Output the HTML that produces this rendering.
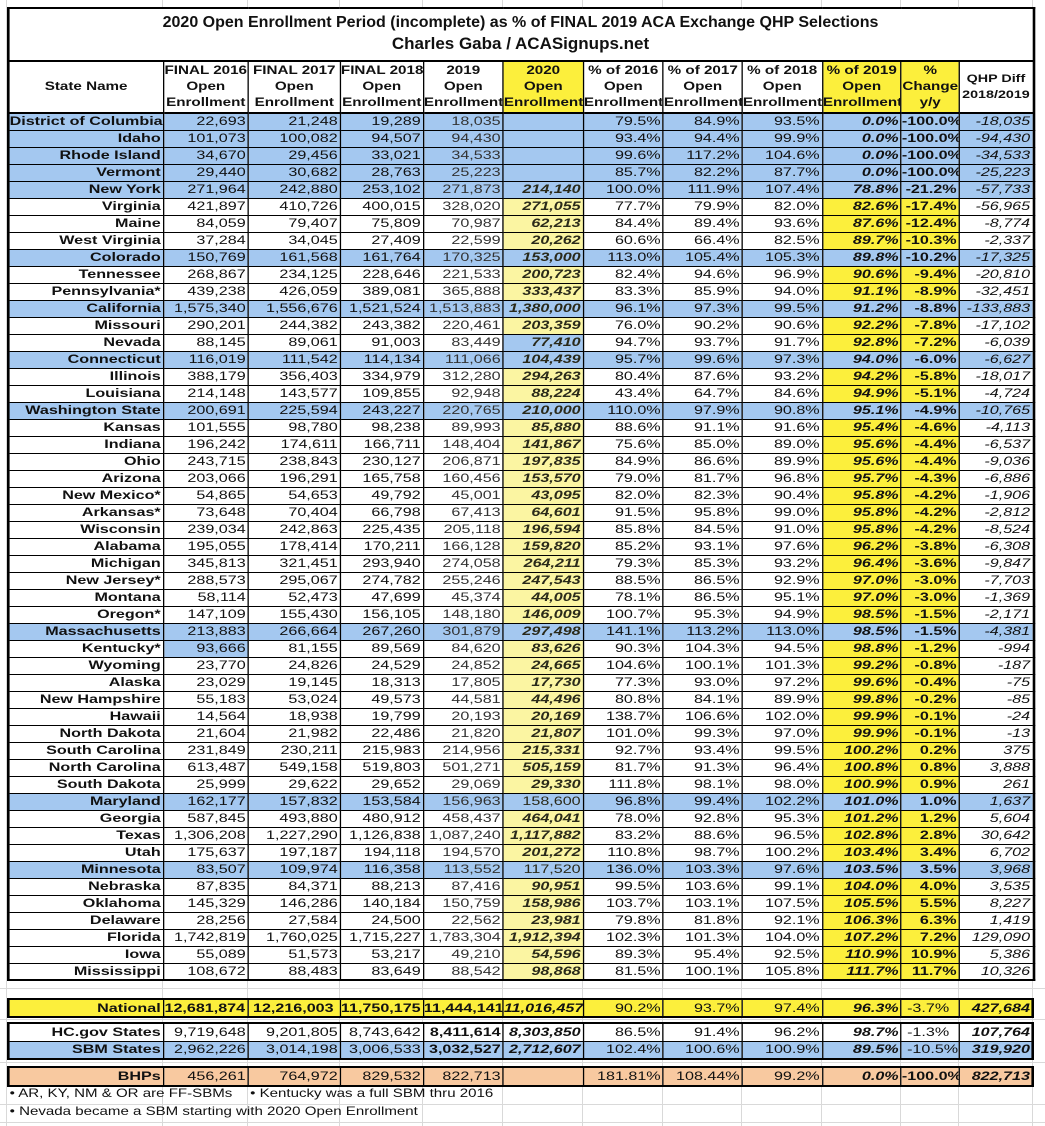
<!DOCTYPE html>
<html><head><meta charset="utf-8">
<style>
html,body{margin:0;padding:0;background:#fff;}
body{width:1045px;height:1126px;position:relative;overflow:hidden;font-family:"Liberation Sans",Arial,sans-serif;}
.vl{position:absolute;top:0;height:1126px;width:1px;background:#d9d9d9;}
.hl{position:absolute;left:0;width:1045px;height:1px;background:#d9d9d9;}
#wrap{position:absolute;left:7px;top:7px;width:788.5px;height:1119px;transform:scaleX(1.3);transform-origin:0 0;}
table{position:absolute;left:0;border-collapse:collapse;table-layout:fixed;width:788.5px;border:2px solid #000;background:#fff;}
td{border:1px solid #000;padding:0 1.5px 0 0;text-align:right;white-space:nowrap;overflow:hidden;font-size:12.4px;line-height:15px;color:#111;}
tr.r{height:17px;}
td.n{font-weight:bold;}
td.g{color:#333;}
td.c{font-weight:bold;font-style:italic;color:#2a2a1a;background:#fbf5a2;}
td.p9{font-weight:bold;font-style:italic;background:#fcef3c;}
td.pc{font-weight:bold;background:#fcef3c;}
td.q{font-style:italic;}
td.w{font-weight:normal;font-style:normal;}
td.k{background:#a4c8f0 !important;}
tr.b td{background:#a4c8f0 !important;}
.title td{height:51px;border-bottom:2px solid #000;padding:0;}
.hdr td{height:50px;text-align:center;font-weight:bold;font-size:11.7px;line-height:16px;border-bottom:2px solid #000;padding:0;white-space:nowrap;}
.hdr td.y{background:#fcef3c;}
.nat td{background:#fcef3c;}
.or td{background:#f8c9a0;}
.bo{font-weight:bold;}
.bi{font-weight:bold;font-style:italic;}
.foot{position:absolute;left:2px;font-size:11.6px;color:#111;white-space:nowrap;}
.tt{position:absolute;left:9px;width:1023px;text-align:center;font-weight:bold;color:#111;white-space:nowrap;}
</style></head><body>
<div class="vl" style="left:162px"></div><div class="vl" style="left:247px"></div><div class="vl" style="left:339px"></div><div class="vl" style="left:422px"></div><div class="vl" style="left:502px"></div><div class="vl" style="left:582px"></div><div class="vl" style="left:662px"></div><div class="vl" style="left:741px"></div><div class="vl" style="left:821px"></div><div class="vl" style="left:900px"></div><div class="vl" style="left:958px"></div><div class="vl" style="left:1032px"></div><div class="vl" style="left:6px"></div>
<div class="hl" style="top:988px"></div><div class="hl" style="top:1019px"></div><div class="hl" style="top:1062px"></div><div class="hl" style="top:1104px"></div><div class="hl" style="top:1122px"></div>
<div id="wrap">
<table style="top:0">
<colgroup><col style="width:119.23px"><col style="width:65.38px"><col style="width:70.77px"><col style="width:63.85px"><col style="width:61.54px"><col style="width:61.54px"><col style="width:61.54px"><col style="width:60.77px"><col style="width:61.54px"><col style="width:60.77px"><col style="width:44.62px"><col style="width:56.92px"></colgroup>
<tr class="title"><td colspan="12"></td></tr>
<tr class="hdr"><td>State Name</td><td>FINAL 2016<br>Open<br>Enrollment</td><td>FINAL 2017<br>Open<br>Enrollment</td><td>FINAL 2018<br>Open<br>Enrollment</td><td>2019<br>Open<br>Enrollment</td><td class="y">2020<br>Open<br>Enrollment</td><td>% of 2016<br>Open<br>Enrollment</td><td>% of 2017<br>Open<br>Enrollment</td><td>% of 2018<br>Open<br>Enrollment</td><td class="y">% of 2019<br>Open<br>Enrollment</td><td class="y">%<br>Change<br>y/y</td><td style="font-size:11px">QHP Diff<br>2018/2019</td></tr>
<tr class="r b"><td class="n">District of Columbia</td><td>22,693</td><td>21,248</td><td>19,289</td><td class="g">18,035</td><td class="c"></td><td>79.5%</td><td>84.9%</td><td>93.5%</td><td class="p9">0.0%</td><td class="pc">-100.0%</td><td class="q">-18,035</td></tr>
<tr class="r b"><td class="n">Idaho</td><td>101,073</td><td>100,082</td><td>94,507</td><td class="g">94,430</td><td class="c"></td><td>93.4%</td><td>94.4%</td><td>99.9%</td><td class="p9">0.0%</td><td class="pc">-100.0%</td><td class="q">-94,430</td></tr>
<tr class="r b"><td class="n">Rhode Island</td><td>34,670</td><td>29,456</td><td>33,021</td><td class="g">34,533</td><td class="c"></td><td>99.6%</td><td>117.2%</td><td>104.6%</td><td class="p9">0.0%</td><td class="pc">-100.0%</td><td class="q">-34,533</td></tr>
<tr class="r b"><td class="n">Vermont</td><td>29,440</td><td>30,682</td><td>28,763</td><td class="g">25,223</td><td class="c"></td><td>85.7%</td><td>82.2%</td><td>87.7%</td><td class="p9">0.0%</td><td class="pc">-100.0%</td><td class="q">-25,223</td></tr>
<tr class="r b"><td class="n">New York</td><td>271,964</td><td>242,880</td><td>253,102</td><td class="g">271,873</td><td class="c">214,140</td><td>100.0%</td><td>111.9%</td><td>107.4%</td><td class="p9">78.8%</td><td class="pc">-21.2%</td><td class="q">-57,733</td></tr>
<tr class="r"><td class="n">Virginia</td><td>421,897</td><td>410,726</td><td>400,015</td><td class="g">328,020</td><td class="c">271,055</td><td>77.7%</td><td>79.9%</td><td>82.0%</td><td class="p9">82.6%</td><td class="pc">-17.4%</td><td class="q">-56,965</td></tr>
<tr class="r"><td class="n">Maine</td><td>84,059</td><td>79,407</td><td>75,809</td><td class="g">70,987</td><td class="c">62,213</td><td>84.4%</td><td>89.4%</td><td>93.6%</td><td class="p9">87.6%</td><td class="pc">-12.4%</td><td class="q">-8,774</td></tr>
<tr class="r"><td class="n">West Virginia</td><td>37,284</td><td>34,045</td><td>27,409</td><td class="g">22,599</td><td class="c">20,262</td><td>60.6%</td><td>66.4%</td><td>82.5%</td><td class="p9">89.7%</td><td class="pc">-10.3%</td><td class="q">-2,337</td></tr>
<tr class="r b"><td class="n">Colorado</td><td>150,769</td><td>161,568</td><td>161,764</td><td class="g">170,325</td><td class="c">153,000</td><td>113.0%</td><td>105.4%</td><td>105.3%</td><td class="p9">89.8%</td><td class="pc">-10.2%</td><td class="q">-17,325</td></tr>
<tr class="r"><td class="n">Tennessee</td><td>268,867</td><td>234,125</td><td>228,646</td><td class="g">221,533</td><td class="c">200,723</td><td>82.4%</td><td>94.6%</td><td>96.9%</td><td class="p9">90.6%</td><td class="pc">-9.4%</td><td class="q">-20,810</td></tr>
<tr class="r"><td class="n">Pennsylvania*</td><td>439,238</td><td>426,059</td><td>389,081</td><td class="g">365,888</td><td class="c">333,437</td><td>83.3%</td><td>85.9%</td><td>94.0%</td><td class="p9">91.1%</td><td class="pc">-8.9%</td><td class="q">-32,451</td></tr>
<tr class="r b"><td class="n">California</td><td>1,575,340</td><td>1,556,676</td><td>1,521,524</td><td class="g">1,513,883</td><td class="c">1,380,000</td><td>96.1%</td><td>97.3%</td><td>99.5%</td><td class="p9">91.2%</td><td class="pc">-8.8%</td><td class="q">-133,883</td></tr>
<tr class="r"><td class="n">Missouri</td><td>290,201</td><td>244,382</td><td>243,382</td><td class="g">220,461</td><td class="c">203,359</td><td>76.0%</td><td>90.2%</td><td>90.6%</td><td class="p9">92.2%</td><td class="pc">-7.8%</td><td class="q">-17,102</td></tr>
<tr class="r"><td class="n">Nevada</td><td>88,145</td><td>89,061</td><td>91,003</td><td class="g">83,449</td><td class="c k">77,410</td><td>94.7%</td><td>93.7%</td><td>91.7%</td><td class="p9">92.8%</td><td class="pc">-7.2%</td><td class="q">-6,039</td></tr>
<tr class="r b"><td class="n">Connecticut</td><td>116,019</td><td>111,542</td><td>114,134</td><td class="g">111,066</td><td class="c">104,439</td><td>95.7%</td><td>99.6%</td><td>97.3%</td><td class="p9">94.0%</td><td class="pc">-6.0%</td><td class="q">-6,627</td></tr>
<tr class="r"><td class="n">Illinois</td><td>388,179</td><td>356,403</td><td>334,979</td><td class="g">312,280</td><td class="c">294,263</td><td>80.4%</td><td>87.6%</td><td>93.2%</td><td class="p9">94.2%</td><td class="pc">-5.8%</td><td class="q">-18,017</td></tr>
<tr class="r"><td class="n">Louisiana</td><td>214,148</td><td>143,577</td><td>109,855</td><td class="g">92,948</td><td class="c">88,224</td><td>43.4%</td><td>64.7%</td><td>84.6%</td><td class="p9">94.9%</td><td class="pc">-5.1%</td><td class="q">-4,724</td></tr>
<tr class="r b"><td class="n">Washington State</td><td>200,691</td><td>225,594</td><td>243,227</td><td class="g">220,765</td><td class="c">210,000</td><td>110.0%</td><td>97.9%</td><td>90.8%</td><td class="p9">95.1%</td><td class="pc">-4.9%</td><td class="q">-10,765</td></tr>
<tr class="r"><td class="n">Kansas</td><td>101,555</td><td>98,780</td><td>98,238</td><td class="g">89,993</td><td class="c">85,880</td><td>88.6%</td><td>91.1%</td><td>91.6%</td><td class="p9">95.4%</td><td class="pc">-4.6%</td><td class="q">-4,113</td></tr>
<tr class="r"><td class="n">Indiana</td><td>196,242</td><td>174,611</td><td>166,711</td><td class="g">148,404</td><td class="c">141,867</td><td>75.6%</td><td>85.0%</td><td>89.0%</td><td class="p9">95.6%</td><td class="pc">-4.4%</td><td class="q">-6,537</td></tr>
<tr class="r"><td class="n">Ohio</td><td>243,715</td><td>238,843</td><td>230,127</td><td class="g">206,871</td><td class="c">197,835</td><td>84.9%</td><td>86.6%</td><td>89.9%</td><td class="p9">95.6%</td><td class="pc">-4.4%</td><td class="q">-9,036</td></tr>
<tr class="r"><td class="n">Arizona</td><td>203,066</td><td>196,291</td><td>165,758</td><td class="g">160,456</td><td class="c">153,570</td><td>79.0%</td><td>81.7%</td><td>96.8%</td><td class="p9">95.7%</td><td class="pc">-4.3%</td><td class="q">-6,886</td></tr>
<tr class="r"><td class="n">New Mexico*</td><td>54,865</td><td>54,653</td><td>49,792</td><td class="g">45,001</td><td class="c">43,095</td><td>82.0%</td><td>82.3%</td><td>90.4%</td><td class="p9">95.8%</td><td class="pc">-4.2%</td><td class="q">-1,906</td></tr>
<tr class="r"><td class="n">Arkansas*</td><td>73,648</td><td>70,404</td><td>66,798</td><td class="g">67,413</td><td class="c">64,601</td><td>91.5%</td><td>95.8%</td><td>99.0%</td><td class="p9">95.8%</td><td class="pc">-4.2%</td><td class="q">-2,812</td></tr>
<tr class="r"><td class="n">Wisconsin</td><td>239,034</td><td>242,863</td><td>225,435</td><td class="g">205,118</td><td class="c">196,594</td><td>85.8%</td><td>84.5%</td><td>91.0%</td><td class="p9">95.8%</td><td class="pc">-4.2%</td><td class="q">-8,524</td></tr>
<tr class="r"><td class="n">Alabama</td><td>195,055</td><td>178,414</td><td>170,211</td><td class="g">166,128</td><td class="c">159,820</td><td>85.2%</td><td>93.1%</td><td>97.6%</td><td class="p9">96.2%</td><td class="pc">-3.8%</td><td class="q">-6,308</td></tr>
<tr class="r"><td class="n">Michigan</td><td>345,813</td><td>321,451</td><td>293,940</td><td class="g">274,058</td><td class="c">264,211</td><td>79.3%</td><td>85.3%</td><td>93.2%</td><td class="p9">96.4%</td><td class="pc">-3.6%</td><td class="q">-9,847</td></tr>
<tr class="r"><td class="n">New Jersey*</td><td>288,573</td><td>295,067</td><td>274,782</td><td class="g">255,246</td><td class="c">247,543</td><td>88.5%</td><td>86.5%</td><td>92.9%</td><td class="p9">97.0%</td><td class="pc">-3.0%</td><td class="q">-7,703</td></tr>
<tr class="r"><td class="n">Montana</td><td>58,114</td><td>52,473</td><td>47,699</td><td class="g">45,374</td><td class="c">44,005</td><td>78.1%</td><td>86.5%</td><td>95.1%</td><td class="p9">97.0%</td><td class="pc">-3.0%</td><td class="q">-1,369</td></tr>
<tr class="r"><td class="n">Oregon*</td><td>147,109</td><td>155,430</td><td>156,105</td><td class="g">148,180</td><td class="c">146,009</td><td>100.7%</td><td>95.3%</td><td>94.9%</td><td class="p9">98.5%</td><td class="pc">-1.5%</td><td class="q">-2,171</td></tr>
<tr class="r b"><td class="n">Massachusetts</td><td>213,883</td><td>266,664</td><td>267,260</td><td class="g">301,879</td><td class="c">297,498</td><td>141.1%</td><td>113.2%</td><td>113.0%</td><td class="p9">98.5%</td><td class="pc">-1.5%</td><td class="q">-4,381</td></tr>
<tr class="r"><td class="n">Kentucky*</td><td class="k">93,666</td><td>81,155</td><td>89,569</td><td class="g">84,620</td><td class="c">83,626</td><td>90.3%</td><td>104.3%</td><td>94.5%</td><td class="p9">98.8%</td><td class="pc">-1.2%</td><td class="q">-994</td></tr>
<tr class="r"><td class="n">Wyoming</td><td>23,770</td><td>24,826</td><td>24,529</td><td class="g">24,852</td><td class="c">24,665</td><td>104.6%</td><td>100.1%</td><td>101.3%</td><td class="p9">99.2%</td><td class="pc">-0.8%</td><td class="q">-187</td></tr>
<tr class="r"><td class="n">Alaska</td><td>23,029</td><td>19,145</td><td>18,313</td><td class="g">17,805</td><td class="c">17,730</td><td>77.3%</td><td>93.0%</td><td>97.2%</td><td class="p9">99.6%</td><td class="pc">-0.4%</td><td class="q">-75</td></tr>
<tr class="r"><td class="n">New Hampshire</td><td>55,183</td><td>53,024</td><td>49,573</td><td class="g">44,581</td><td class="c">44,496</td><td>80.8%</td><td>84.1%</td><td>89.9%</td><td class="p9">99.8%</td><td class="pc">-0.2%</td><td class="q">-85</td></tr>
<tr class="r"><td class="n">Hawaii</td><td>14,564</td><td>18,938</td><td>19,799</td><td class="g">20,193</td><td class="c">20,169</td><td>138.7%</td><td>106.6%</td><td>102.0%</td><td class="p9">99.9%</td><td class="pc">-0.1%</td><td class="q">-24</td></tr>
<tr class="r"><td class="n">North Dakota</td><td>21,604</td><td>21,982</td><td>22,486</td><td class="g">21,820</td><td class="c">21,807</td><td>101.0%</td><td>99.3%</td><td>97.0%</td><td class="p9">99.9%</td><td class="pc">-0.1%</td><td class="q">-13</td></tr>
<tr class="r"><td class="n">South Carolina</td><td>231,849</td><td>230,211</td><td>215,983</td><td class="g">214,956</td><td class="c">215,331</td><td>92.7%</td><td>93.4%</td><td>99.5%</td><td class="p9">100.2%</td><td class="pc">0.2%</td><td class="q">375</td></tr>
<tr class="r"><td class="n">North Carolina</td><td>613,487</td><td>549,158</td><td>519,803</td><td class="g">501,271</td><td class="c">505,159</td><td>81.7%</td><td>91.3%</td><td>96.4%</td><td class="p9">100.8%</td><td class="pc">0.8%</td><td class="q">3,888</td></tr>
<tr class="r"><td class="n">South Dakota</td><td>25,999</td><td>29,622</td><td>29,652</td><td class="g">29,069</td><td class="c">29,330</td><td>111.8%</td><td>98.1%</td><td>98.0%</td><td class="p9">100.9%</td><td class="pc">0.9%</td><td class="q">261</td></tr>
<tr class="r b"><td class="n">Maryland</td><td>162,177</td><td>157,832</td><td>153,584</td><td class="g">156,963</td><td class="c w">158,600</td><td>96.8%</td><td>99.4%</td><td>102.2%</td><td class="p9">101.0%</td><td class="pc">1.0%</td><td class="q">1,637</td></tr>
<tr class="r"><td class="n">Georgia</td><td>587,845</td><td>493,880</td><td>480,912</td><td class="g">458,437</td><td class="c">464,041</td><td>78.0%</td><td>92.8%</td><td>95.3%</td><td class="p9">101.2%</td><td class="pc">1.2%</td><td class="q">5,604</td></tr>
<tr class="r"><td class="n">Texas</td><td>1,306,208</td><td>1,227,290</td><td>1,126,838</td><td class="g">1,087,240</td><td class="c">1,117,882</td><td>83.2%</td><td>88.6%</td><td>96.5%</td><td class="p9">102.8%</td><td class="pc">2.8%</td><td class="q">30,642</td></tr>
<tr class="r"><td class="n">Utah</td><td>175,637</td><td>197,187</td><td>194,118</td><td class="g">194,570</td><td class="c">201,272</td><td>110.8%</td><td>98.7%</td><td>100.2%</td><td class="p9">103.4%</td><td class="pc">3.4%</td><td class="q">6,702</td></tr>
<tr class="r b"><td class="n">Minnesota</td><td>83,507</td><td>109,974</td><td>116,358</td><td class="g">113,552</td><td class="c w">117,520</td><td>136.0%</td><td>103.3%</td><td>97.6%</td><td class="p9">103.5%</td><td class="pc">3.5%</td><td class="q">3,968</td></tr>
<tr class="r"><td class="n">Nebraska</td><td>87,835</td><td>84,371</td><td>88,213</td><td class="g">87,416</td><td class="c">90,951</td><td>99.5%</td><td>103.6%</td><td>99.1%</td><td class="p9">104.0%</td><td class="pc">4.0%</td><td class="q">3,535</td></tr>
<tr class="r"><td class="n">Oklahoma</td><td>145,329</td><td>146,286</td><td>140,184</td><td class="g">150,759</td><td class="c">158,986</td><td>103.7%</td><td>103.1%</td><td>107.5%</td><td class="p9">105.5%</td><td class="pc">5.5%</td><td class="q">8,227</td></tr>
<tr class="r"><td class="n">Delaware</td><td>28,256</td><td>27,584</td><td>24,500</td><td class="g">22,562</td><td class="c">23,981</td><td>79.8%</td><td>81.8%</td><td>92.1%</td><td class="p9">106.3%</td><td class="pc">6.3%</td><td class="q">1,419</td></tr>
<tr class="r"><td class="n">Florida</td><td>1,742,819</td><td>1,760,025</td><td>1,715,227</td><td class="g">1,783,304</td><td class="c">1,912,394</td><td>102.3%</td><td>101.3%</td><td>104.0%</td><td class="p9">107.2%</td><td class="pc">7.2%</td><td class="q">129,090</td></tr>
<tr class="r"><td class="n">Iowa</td><td>55,089</td><td>51,573</td><td>53,217</td><td class="g">49,210</td><td class="c">54,596</td><td>89.3%</td><td>95.4%</td><td>92.5%</td><td class="p9">110.9%</td><td class="pc">10.9%</td><td class="q">5,386</td></tr>
<tr class="r"><td class="n">Mississippi</td><td>108,672</td><td>88,483</td><td>83,649</td><td class="g">88,542</td><td class="c">98,868</td><td>81.5%</td><td>100.1%</td><td>105.8%</td><td class="p9">111.7%</td><td class="pc">11.7%</td><td class="q">10,326</td></tr>
</table>

<table class="nat" style="top:991px">
<colgroup><col style="width:119.23px"><col style="width:65.38px"><col style="width:70.77px"><col style="width:63.85px"><col style="width:61.54px"><col style="width:61.54px"><col style="width:61.54px"><col style="width:60.77px"><col style="width:61.54px"><col style="width:60.77px"><col style="width:44.62px"><col style="width:56.92px"></colgroup>
<tr style="height:18px"><td class="bo">National</td><td class="bo" style="text-align:center">12,681,874</td><td class="bo" style="text-align:center">12,216,003</td><td class="bo">11,750,175</td><td class="bo">11,444,141</td><td class="bi">11,016,457</td><td>90.2%</td><td>93.7%</td><td>97.4%</td><td class="bi">96.3%</td><td style="text-align:left;padding-left:4px">-3.7%</td><td class="bi">427,684</td></tr>
</table>

<table style="top:1015px">
<colgroup><col style="width:119.23px"><col style="width:65.38px"><col style="width:70.77px"><col style="width:63.85px"><col style="width:61.54px"><col style="width:61.54px"><col style="width:61.54px"><col style="width:60.77px"><col style="width:61.54px"><col style="width:60.77px"><col style="width:44.62px"><col style="width:56.92px"></colgroup>
<tr style="height:18px"><td class="bo">HC.gov States</td><td>9,719,648</td><td>9,201,805</td><td>8,743,642</td><td class="bo">8,411,614</td><td class="bi">8,303,850</td><td>86.5%</td><td>91.4%</td><td>96.2%</td><td class="bi">98.7%</td><td style="text-align:left;padding-left:4px">-1.3%</td><td class="bi">107,764</td></tr>
<tr class="b" style="height:18px"><td class="bo">SBM States</td><td>2,962,226</td><td>3,014,198</td><td>3,006,533</td><td class="bo">3,032,527</td><td class="bi">2,712,607</td><td>102.4%</td><td>100.6%</td><td>100.9%</td><td class="bi">89.5%</td><td style="text-align:left;padding-left:4px">-10.5%</td><td class="bi">319,920</td></tr>
</table>

<table class="or" style="top:1059px">
<colgroup><col style="width:119.23px"><col style="width:65.38px"><col style="width:70.77px"><col style="width:63.85px"><col style="width:61.54px"><col style="width:61.54px"><col style="width:61.54px"><col style="width:60.77px"><col style="width:61.54px"><col style="width:60.77px"><col style="width:44.62px"><col style="width:56.92px"></colgroup>
<tr style="height:19px"><td class="bo">BHPs</td><td>456,261</td><td>764,972</td><td>829,532</td><td>822,713</td><td></td><td>181.81%</td><td>108.44%</td><td>99.2%</td><td class="bi">0.0%</td><td class="bo">-100.0%</td><td class="bi">822,713</td></tr>
</table>

<div class="foot" style="top:1080px">• AR, KY, NM &amp; OR are FF-SBMs</div>
<div class="foot" style="top:1080px;left:187px">• Kentucky was a full SBM thru 2016</div>
<div class="foot" style="top:1098px">• Nevada became a SBM starting with 2020 Open Enrollment</div>
</div>
<div class="tt" style="top:13px;font-size:16px;line-height:20px">2020 Open Enrollment Period (incomplete) as % of FINAL 2019 ACA Exchange QHP Selections</div>
<div class="tt" style="top:33px;font-size:17px;line-height:22px">Charles Gaba / ACASignups.net</div>
</body></html>
